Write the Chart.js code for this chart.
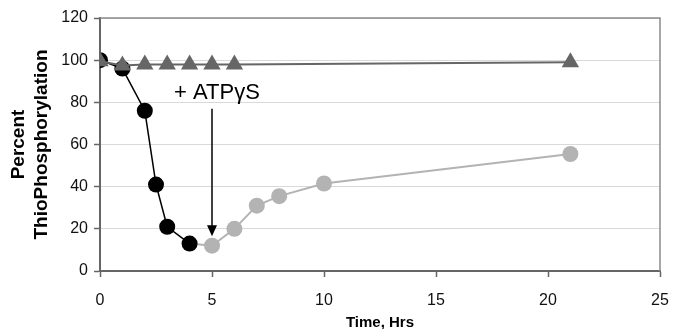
<!DOCTYPE html>
<html>
<head>
<meta charset="utf-8">
<script src="https://cdn.jsdelivr.net/npm/chart.js@4"></script>
<style>
  html, body { margin: 0; padding: 0; background: #fff; }
  #wrap { width: 673px; height: 329px; }
</style>
</head>
<body>
<div id="wrap"><canvas id="thioChart"></canvas></div>
<script>
// readings
const blackTimes = [0, 1, 2, 2.5, 3, 4];
const blackValues = [100, 96, 76, 41, 21, 13];

const grayTimes = [4, 5, 6, 7, 8, 10, 21];
const grayValues = [13, 12, 20, 31, 35.5, 41.5, 55.5];

const triTimes = [0, 1, 2, 3, 4, 5, 6, 21];
const triValues = [99.5, 97.5, 98, 98, 98, 98, 98, 99];

const xTicks = [0, 5, 10, 15, 20, 25];
const yTicks = [0, 20, 40, 60, 80, 100, 120];

const arrowLabel = "+ ATP\u03b3S";
const arrowTime = 5;
const arrowFrom = 77;
const arrowTo = 16.5;

function pairs(xs, ys) {
	return xs.map((x, i) => ({ x: x, y: ys[i] }));
}

const fontFamily = "'Liberation Sans', Arial, sans-serif";

// gray frame on top / right, and the +ATPyS arrow
const extras = {
	id: "extras",
	afterDatasetsDraw(chart) {
		const c = chart.ctx;
		const a = chart.chartArea;
		const xs = chart.scales.x;
		const ys = chart.scales.y;
		c.save();
		c.strokeStyle = "#8a8a8a";
		c.lineWidth = 1.5;
		c.beginPath();
		c.moveTo(a.left, a.top);
		c.lineTo(a.right, a.top);
		c.lineTo(a.right, a.bottom);
		c.stroke();

		const px = xs.getPixelForValue(arrowTime);
		const y1 = ys.getPixelForValue(arrowFrom);
		const y2 = ys.getPixelForValue(arrowTo);
		c.strokeStyle = "#000";
		c.fillStyle = "#000";
		c.lineWidth = 1.5;
		c.beginPath();
		c.moveTo(px, y1);
		c.lineTo(px, y2 - 10);
		c.stroke();
		c.beginPath();
		c.moveTo(px - 5, y2 - 11);
		c.lineTo(px + 5, y2 - 11);
		c.lineTo(px, y2);
		c.closePath();
		c.fill();

		c.font = "22px " + fontFamily;
		c.textAlign = "center";
		c.textBaseline = "middle";
		c.fillText(arrowLabel, px + 5, y1 - 16);
		c.restore();
	}
};

const chart = new Chart(document.getElementById("thioChart"), {
	type: "scatter",
	data: {
		datasets: [
			{
				label: "control",
				data: pairs(triTimes, triValues),
				showLine: true,
				borderColor: "#666",
				backgroundColor: "#666",
				borderWidth: 2,
				pointStyle: "triangle",
				pointRadius: 10,
				pointBorderWidth: 0,
			},
			{
				label: "no ATPyS",
				data: pairs(blackTimes, blackValues),
				showLine: true,
				borderColor: "#000",
				backgroundColor: "#000",
				borderWidth: 1.5,
				pointRadius: 8,
				pointBorderWidth: 0,
			},
			{
				label: "+ ATPyS",
				data: pairs(grayTimes, grayValues),
				showLine: true,
				borderColor: "#b3b3b3",
				backgroundColor: "#b3b3b3",
				borderWidth: 2,
				pointRadius: (ctx) => (ctx.dataIndex === 0 ? 0 : 8),
				pointBorderWidth: 0,
			},
		],
	},
	options: {
		responsive: true,
		maintainAspectRatio: false,
		animation: false,
		layout: { padding: { top: 18, right: 13, left: 0, bottom: 0 } },
		plugins: {
			legend: { display: false },
			tooltip: { enabled: false },
		},
		scales: {
			x: {
				type: "linear",
				min: 0,
				max: 25,
				afterBuildTicks: (s) => { s.ticks = xTicks.map((v) => ({ value: v })); },
				afterFit: (s) => {
					s.height = 58;
					s.paddingLeft = 0;
					s.paddingRight = 0;
				},
				grid: {
					drawOnChartArea: false,
					tickLength: 6,
					tickColor: "#666",
					tickWidth: 1.5,
				},
				border: { color: "#666", width: 2 },
				ticks: {
					color: "#111",
					padding: 14,
					maxRotation: 0,
					font: { family: fontFamily, size: 16 },
				},
				title: {
					display: true,
					text: "Time, Hrs",
					color: "#000",
					padding: { top: 0, bottom: -3 },
					font: { family: fontFamily, size: 15, weight: "bold" },
				},
			},
			y: {
				min: 0,
				max: 120,
				afterBuildTicks: (s) => { s.ticks = yTicks.map((v) => ({ value: v })); },
				afterFit: (s) => { s.width = 100; },
				grid: {
					color: "#d9d9d9",
					lineWidth: 1,
					borderDash: [7, 5],
					tickLength: 6,
					tickColor: "#666",
					tickWidth: 1.5,
					tickBorderDash: [],
				},
				border: { color: "#666", width: 2 },
				ticks: {
					color: "#111",
					padding: 6,
					font: { family: fontFamily, size: 16 },
				},
				title: {
					display: true,
					text: ["Percent", "ThioPhosphorylation"],
					color: "#000",
					padding: { top: 8, bottom: 0 },
					font: { family: fontFamily, size: 19, weight: "bold", lineHeight: 1.18 },
				},
			},
		},
	},
	plugins: [extras],
});
</script>
</body>
</html>
